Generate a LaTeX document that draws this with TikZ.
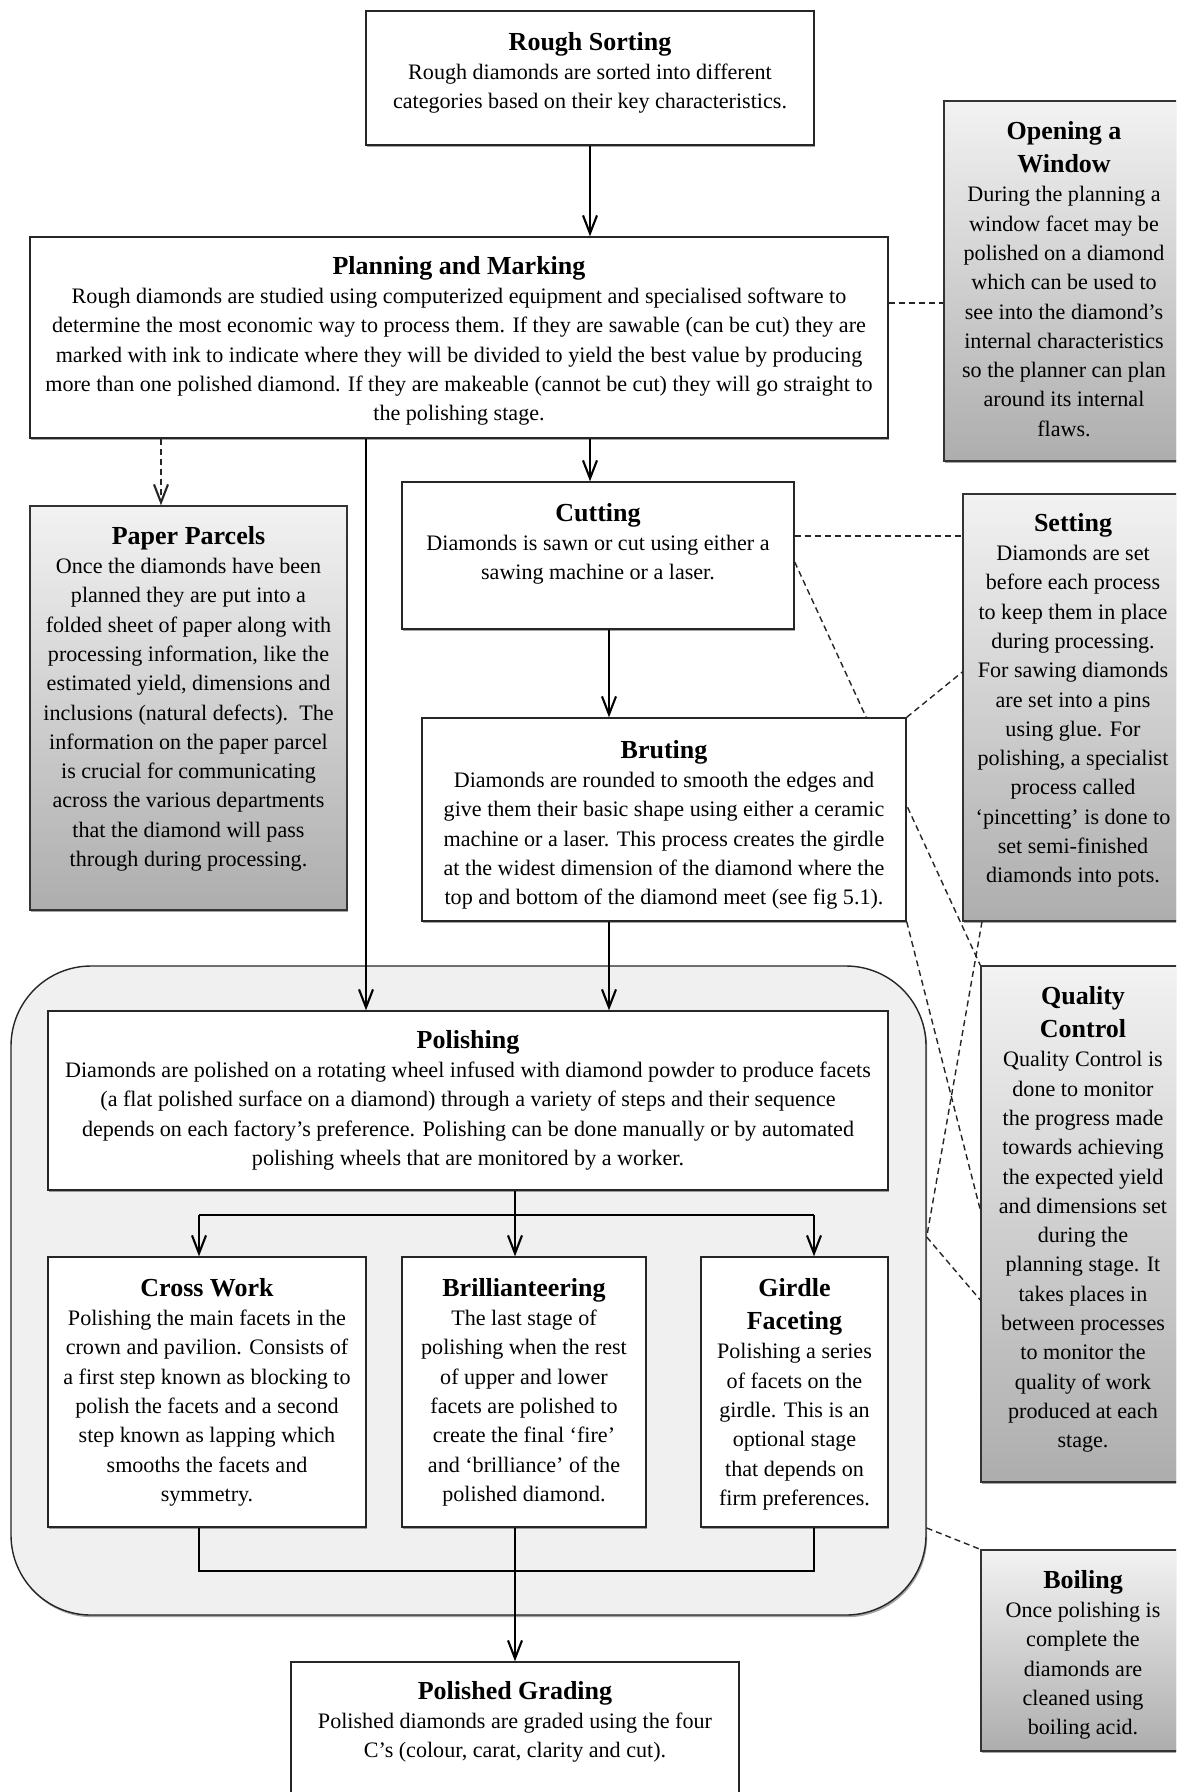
\documentclass[tikz,border=0pt]{standalone}
\usepackage{fontspec}
\setmainfont{Liberation Serif}
\usetikzlibrary{arrows.meta,shadows,calc}
\newcommand{\ttl}[1]{{\bfseries\fontsize{26}{29.3}\selectfont #1}}
\newcommand{\mkbox}[6]{\node[#1, minimum width={(#5-#3)*1pt}, minimum height={(#6-#4)*1pt}] (#2) at ({(#3+#5)/2},{(#4+#6)/2}) {};}
\tikzset{
  shad/.style={drop shadow={shadow xshift=1.2pt, shadow yshift=-2.2pt, opacity=0.45, fill=black!80}},
  wbox/.style={rectangle, draw=black!85, line width=1.4pt, fill=white, inner sep=0pt, shad},
  gbox/.style={rectangle, draw=black!80, line width=1.4pt, top color=black!5, bottom color=black!32, inner sep=0pt, shad},
  contbox/.style={rectangle, draw=black!85, line width=1.4pt, fill=black!6, rounded corners=80pt, inner sep=0pt, shad},
  txt/.style={anchor=north, align=center, inner sep=0pt, font=\fontsize{22.1}{29.3}\selectfont},
  conn/.style={line width=1.5pt, draw=black},
  arr/.style={conn, -{Straight Barb[length=18pt,width=14pt,line width=2.1pt]}},
  dsh/.style={line width=1.4pt, draw=black!85, dash pattern=on 6pt off 4pt},
  darr/.style={dsh, -{Straight Barb[length=18pt,width=14pt,line width=2.1pt]}},
}
\begin{document}
\begin{tikzpicture}[x=1pt,y=-1pt]
\clip (0,0) rectangle (1176,1792);
\fill[white] (0,0) rectangle (1176,1792);

% helper coordinates
\coordinate (xa) at (161,0);
\coordinate (xb) at (366,0);
\coordinate (xd) at (609,0);
\coordinate (xf) at (199,0);
\coordinate (xg) at (814,0);
\coordinate (xs) at (982,0);
\coordinate (yw) at (0,303);
\coordinate (ys) at (0,536);
\coordinate (yq) at (0,562);
\coordinate (yt) at (0,672);
\coordinate (yb) at (0,1210);
\coordinate (yc) at (0,1237);
\coordinate (yd) at (0,1300);
\coordinate (ye) at (0,1528);
\coordinate (br) at (515,1215);
\coordinate (mg) at (515,1571);

% container
\mkbox{contbox}{cont}{11}{966}{926}{1615}

% boxes (upper)
\mkbox{wbox}{rough}{366}{11}{814}{145}
\mkbox{wbox}{plan}{30}{237}{888}{438}
\mkbox{gbox}{win}{944}{101}{1185}{461}
\mkbox{gbox}{paper}{30}{506}{347}{910}
\mkbox{wbox}{cut}{402}{482}{794}{629}
\mkbox{gbox}{set}{963}{494}{1185}{921}
\mkbox{gbox}{qc}{981}{966}{1185}{1482}
\mkbox{gbox}{boil}{981}{1550}{1185}{1751}

% dashed line passing behind Bruting
\draw[dsh] (cut.east |- yq) -- (qc.north west);

\mkbox{wbox}{brut}{422}{718}{906}{921}
\mkbox{wbox}{pol}{48}{1011}{888}{1190}
\mkbox{wbox}{cross}{48}{1257}{366}{1527}
\mkbox{wbox}{brill}{402}{1257}{646}{1527}
\mkbox{wbox}{gird}{701}{1257}{888}{1527}
\mkbox{wbox}{pg}{291}{1662}{739}{1810}

% texts
\node[txt] (rough-t) at (590,32) {\ttl{Rough Sorting}\\
Rough diamonds are sorted into different\\
categories based on their key characteristics.};

\node[txt] (plan-t) at (459,256) {\ttl{Planning and Marking}\\
Rough diamonds are studied using computerized equipment and specialised software to\\
determine the most economic way to process them. If they are sawable (can be cut) they are\\
marked with ink to indicate where they will be divided to yield the best value by producing\\
more than one polished diamond. If they are makeable (cannot be cut) they will go straight to\\
the polishing stage.};

\node[txt] (win-t) at (1064,121) {\ttl{Opening a}\\[4pt]\ttl{Window}\\
During the planning a\\
window facet may be\\
polished on a diamond\\
which can be used to\\
see into the diamond’s\\
internal characteristics\\
so the planner can plan\\
around its internal\\
flaws.};

\node[txt] (paper-t) at (188.5,526) {\ttl{Paper Parcels}\\
Once the diamonds have been\\
planned they are put into a\\
folded sheet of paper along with\\
processing information, like the\\
estimated yield, dimensions and\\
inclusions (natural defects).\ \ The\\
information on the paper parcel\\
is crucial for communicating\\
across the various departments\\
that the diamond will pass\\
through during processing.};

\node[txt] (cut-t) at (598,503) {\ttl{Cutting}\\
Diamonds is sawn or cut using either a\\
sawing machine or a laser.};

\node[txt] (set-t) at (1073,513) {\ttl{Setting}\\
Diamonds are set\\
before each process\\
to keep them in place\\
during processing.\\
For sawing diamonds\\
are set into a pins\\
using glue. For\\
polishing, a specialist\\
process called\\
‘pincetting’ is done to\\
set semi-finished\\
diamonds into pots.};

\node[txt] (brut-t) at (664,740) {\ttl{Bruting}\\
Diamonds are rounded to smooth the edges and\\
give them their basic shape using either a ceramic\\
machine or a laser. This process creates the girdle\\
at the widest dimension of the diamond where the\\
top and bottom of the diamond meet (see fig 5.1).};

\node[txt] (pol-t) at (468,1030) {\ttl{Polishing}\\
Diamonds are polished on a rotating wheel infused with diamond powder to produce facets\\
(a flat polished surface on a diamond) through a variety of steps and their sequence\\
depends on each factory’s preference. Polishing can be done manually or by automated\\
polishing wheels that are monitored by a worker.};

\node[txt] (cross-t) at (207,1278) {\ttl{Cross Work}\\
Polishing the main facets in the\\
crown and pavilion. Consists of\\
a first step known as blocking to\\
polish the facets and a second\\
step known as lapping which\\
smooths the facets and\\
symmetry.};

\node[txt] (brill-t) at (524,1278) {\ttl{Brillianteering}\\
The last stage of\\
polishing when the rest\\
of upper and lower\\
facets are polished to\\
create the final ‘fire’\\
and ‘brilliance’ of the\\
polished diamond.};

\node[txt] (gird-t) at (794.5,1278) {\ttl{Girdle}\\[4pt]\ttl{Faceting}\\
Polishing a series\\
of facets on the\\
girdle. This is an\\
optional stage\\
that depends on\\
firm preferences.};

\node[txt] (qc-t) at (1083,986) {\ttl{Quality}\\[4pt]\ttl{Control}\\
Quality Control is\\
done to monitor\\
the progress made\\
towards achieving\\
the expected yield\\
and dimensions set\\
during the\\
planning stage. It\\
takes places in\\
between processes\\
to monitor the\\
quality of work\\
produced at each\\
stage.};

\node[txt] (boil-t) at (1083,1570) {\ttl{Boiling}\\
Once polishing is\\
complete the\\
diamonds are\\
cleaned using\\
boiling acid.};

\node[txt] (pg-t) at (515,1681) {\ttl{Polished Grading}\\
Polished diamonds are graded using the four\\
C’s (colour, carat, clarity and cut).};

% solid connectors
\draw[arr] (rough.south) -- (rough.south |- plan.north);
\draw[darr] (plan.south -| xa) -- (paper.north -| xa);
\draw[arr] (plan.south -| xb) -- (pol.north -| xb);
\draw[arr] (plan.south -| rough.south) -- (cut.north -| rough.south);
\draw[arr] (cut.south -| xd) -- (brut.north -| xd);
\draw[arr] (brut.south -| xd) -- (pol.north -| xd);

\draw[conn] (pol.south -| br) -- (br);
\draw[conn] (br -| xf) -- (br -| xg);
\draw[arr] (br -| xf) -- (cross.north -| xf);
\draw[arr] (br) -- (brill.north -| br);
\draw[arr] (br -| xg) -- (gird.north -| xg);

\draw[conn] (cross.south -| xf) -- (mg -| xf) -- (mg -| xg) -- (gird.south -| xg);
\draw[arr] (brill.south -| mg) -- (pg.north -| mg);

% dashed connectors
\draw[dsh] (plan.east |- yw) -- (win.west |- yw);
\draw[dsh] (cut.east |- ys) -- (set.west |- ys);
\draw[dsh] (brut.north east) -- (set.west |- yt);
\draw[dsh] (brut.south east) -- (qc.west |- yb);
\draw[dsh] (set.south -| xs) -- (cont.east |- yc);
\draw[dsh] (cont.east |- yc) -- (qc.west |- yd);
\draw[dsh] (cont.east |- ye) -- (boil.north west);
\end{tikzpicture}
\end{document}
